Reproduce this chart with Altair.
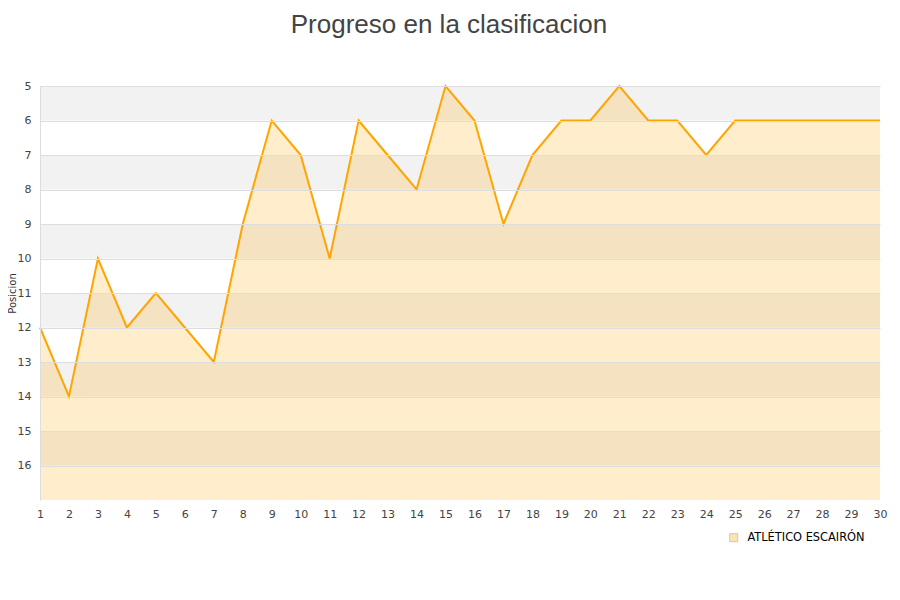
import altair as alt
import pandas as pd

jornadas = list(range(1, 31))
posiciones = [12, 14, 10, 12, 11, 12, 13, 9, 6, 7, 10, 6, 7, 8, 5, 6, 9, 7, 6, 6,
              5, 6, 6, 7, 6, 6, 6, 6, 6, 6]
equipo = "ATLÉTICO ESCAIRÓN"
band_start = [5, 7, 9, 11, 13, 15]
band_end = [6, 8, 10, 12, 14, 16]
y_ticks = list(range(5, 17))

df = pd.DataFrame({"jornada": jornadas, "pos": posiciones, "team": equipo, "base": 17})
bands = pd.DataFrame({"s": band_start, "e": band_end})

yscale = alt.Scale(domain=[5, 17], reverse=True, nice=False, zero=False)
xscale = alt.Scale(domain=[1, 30], nice=False, zero=False)

yaxis = alt.Axis(
    values=y_ticks, title="Posicion", grid=True, gridColor="#dddddd", zindex=1,
    ticks=False, domain=True, domainColor="#dddddd", labelPadding=9,
    titleFontSize=10, titleFontWeight="normal", titleColor="#333333",
    titleX=-28, titleY=207, titleAngle=-90, titleBaseline="middle", titleAlign="center",
    titleLimit=200, labelOverlap=False)
xaxis = alt.Axis(
    values=jornadas, title=None, grid=False, ticks=False, domain=False,
    labelPadding=8, labelFlush=False, labelOverlap=False)

band_layer = alt.Chart(bands).mark_rect(color="#f2f2f2").encode(
    y=alt.Y("s:Q", scale=yscale, axis=yaxis),
    y2="e:Q",
    x=alt.value(0),
    x2=alt.value(840),
)

area = alt.Chart(df).mark_area(opacity=0.2).encode(
    x=alt.X("jornada:Q", scale=xscale, axis=xaxis),
    y=alt.Y("pos:Q", scale=yscale, axis=yaxis),
    y2="base:Q",
    color=alt.Color("team:N", scale=alt.Scale(range=["#ffa500"]), legend=alt.Legend(
        title=None, orient="none", legendX=688, legendY=446, symbolType="square",
        symbolOpacity=0.3, symbolSize=64, symbolStrokeColor="#5a4a30", symbolStrokeWidth=1,
        labelFontSize=11.4, labelOffset=8, labelColor="#000000", labelFont="DejaVu Sans")),
)

line = alt.Chart(df).mark_line(color="#ffa500", strokeWidth=2).encode(
    x=alt.X("jornada:Q", scale=xscale, axis=xaxis),
    y=alt.Y("pos:Q", scale=yscale, axis=yaxis),
)

chart = alt.layer(band_layer, area, line).properties(
    width=840, height=414,
    title=alt.TitleParams("Progreso en la clasificacion", fontSize=26, fontWeight="normal",
                          color="#444444", font="Liberation Sans", anchor="middle",
                          offset=42, dx=-11),
    autosize=alt.AutoSizeParams(type="none"),
    padding={"left": 32, "top": 78, "right": 8, "bottom": 80},
).configure_view(stroke=None).configure_axis(
    labelOverlap=False, labelColor="#444444", labelFontSize=11, labelFont="DejaVu Sans",
    titleFont="DejaVu Sans",
)

chart.save("out.html", embed_options={"renderer": "svg", "actions": False})
